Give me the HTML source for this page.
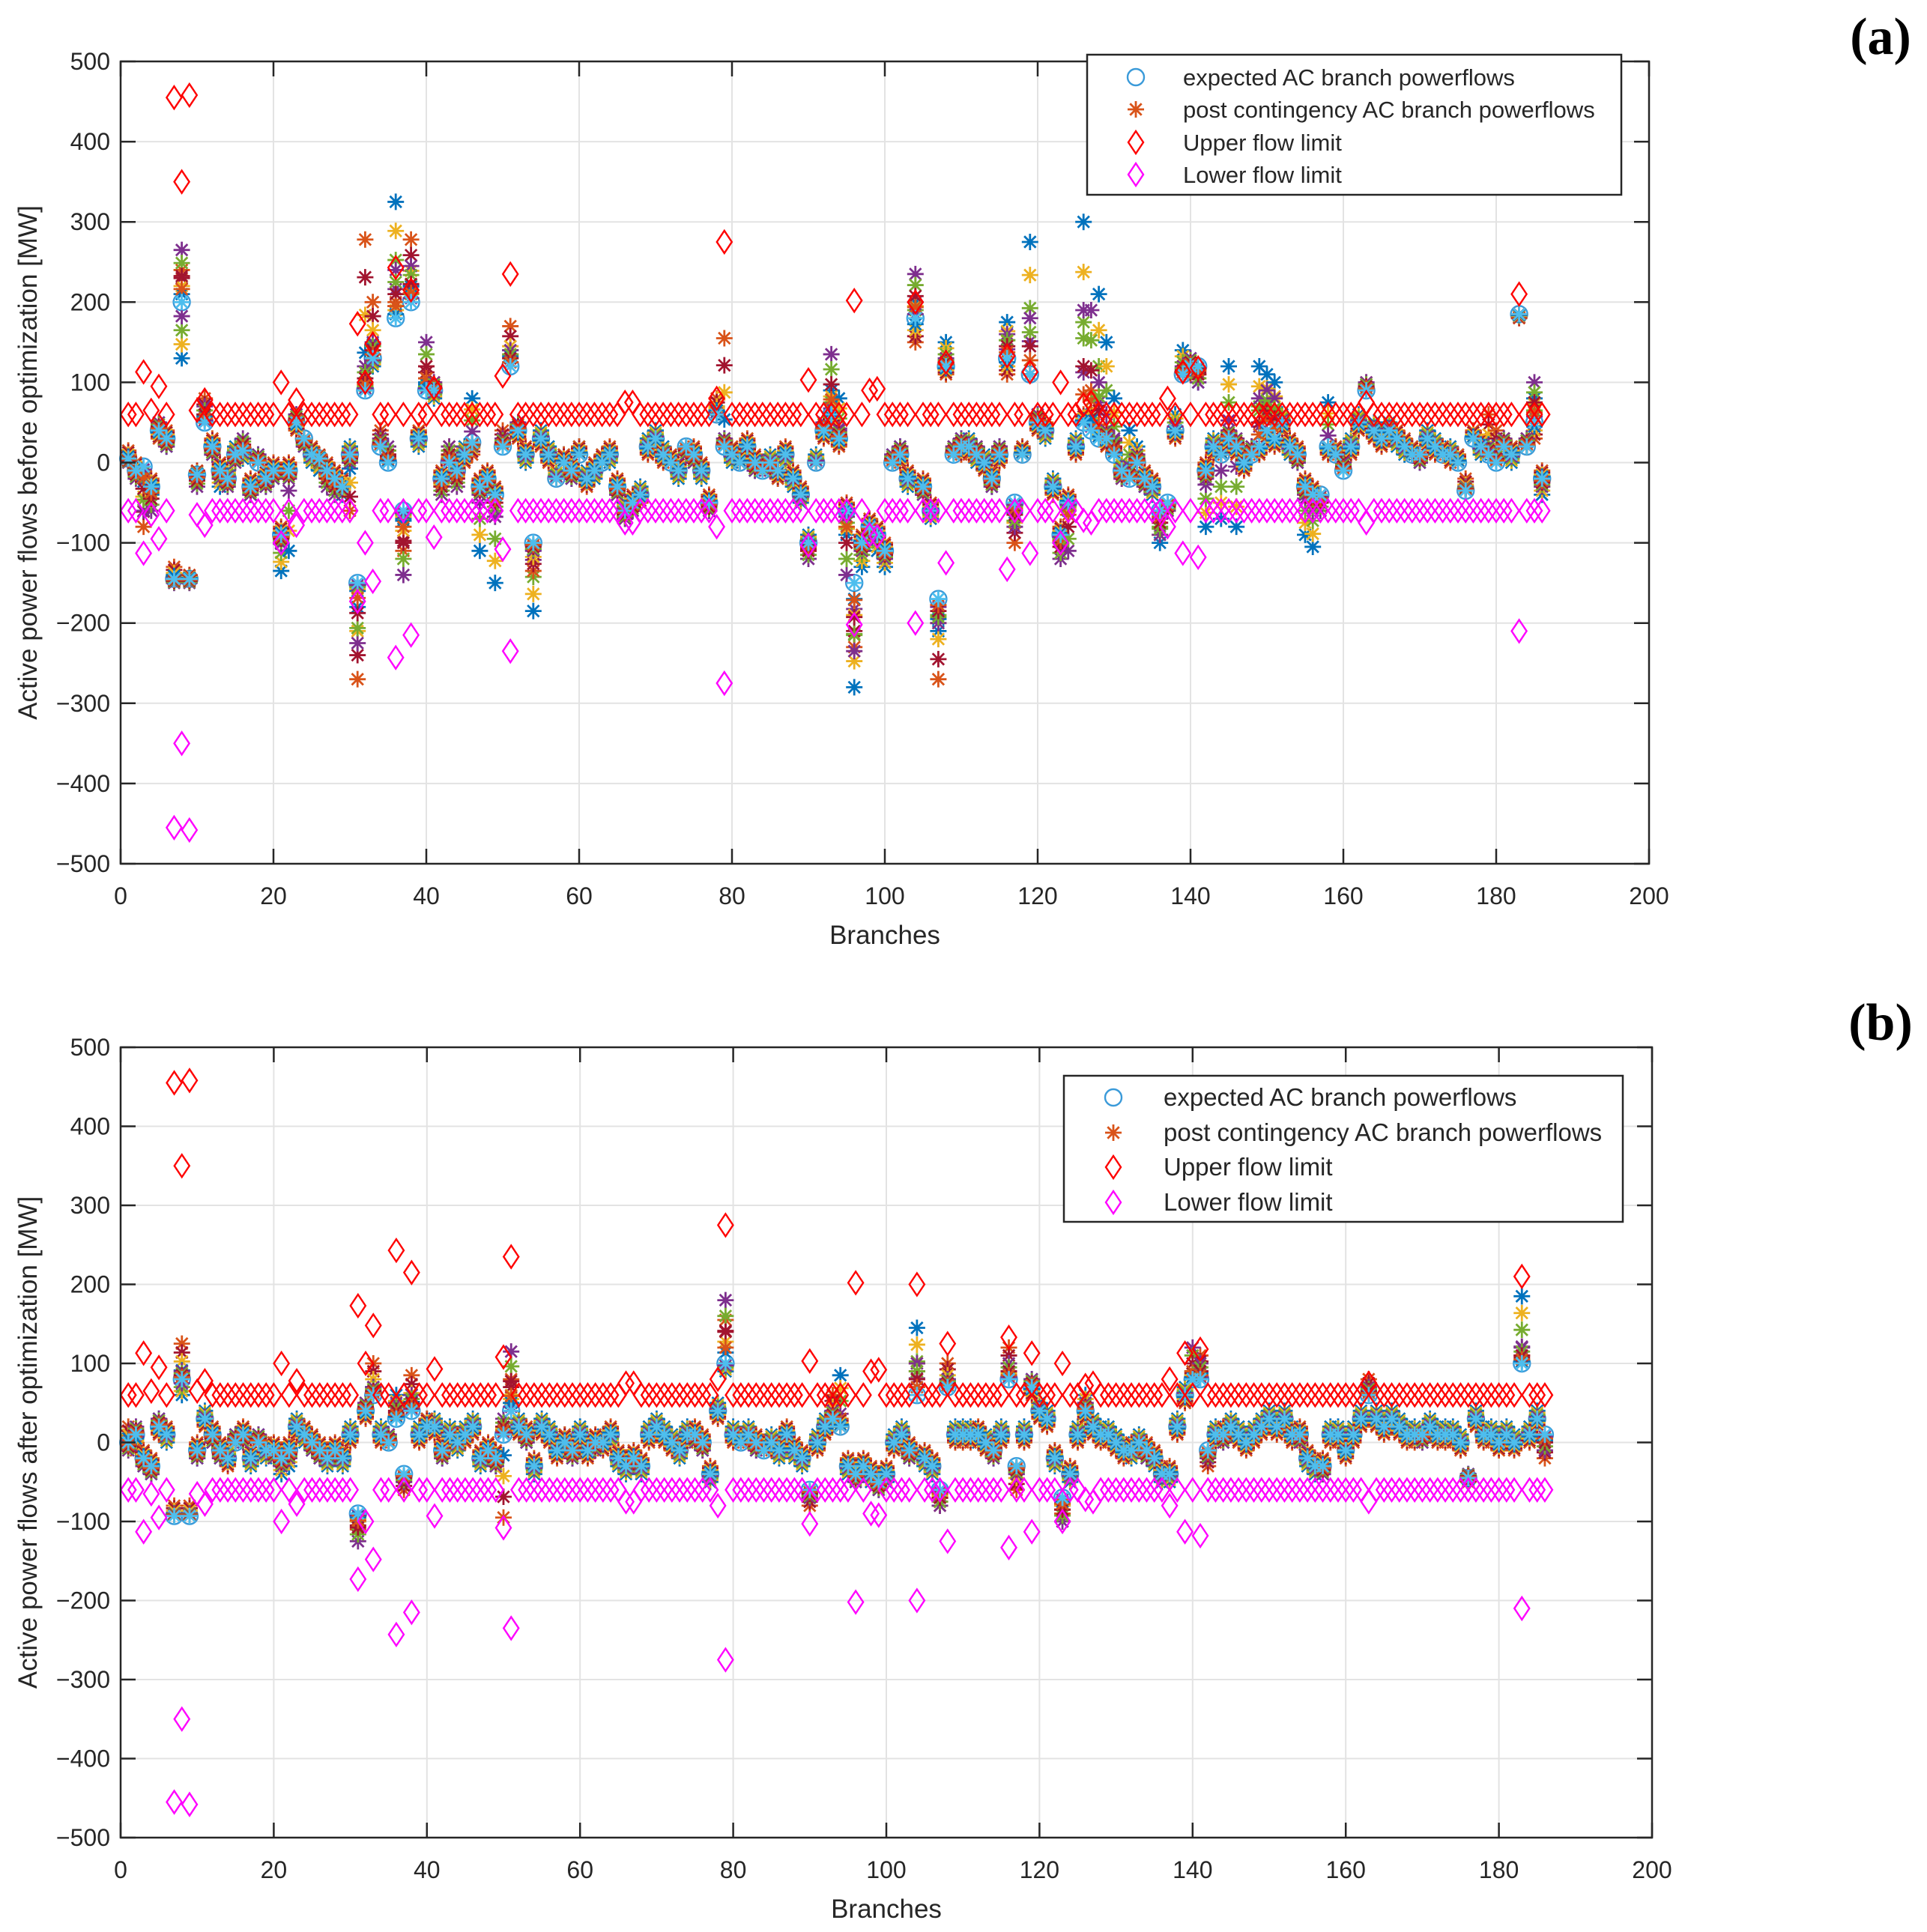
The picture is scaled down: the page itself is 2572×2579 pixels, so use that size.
<!DOCTYPE html>
<html><head><meta charset="utf-8"><style>
html,body{margin:0;padding:0;background:#fff}
svg{display:block}
text{font-family:"Liberation Sans",sans-serif;fill:#262626}
</style></head><body>
<svg id="fig" width="2572" height="2579" viewBox="0 0 2572 2579" xmlns="http://www.w3.org/2000/svg">
<text x="2510" y="72" font-size="70" font-weight="bold" style="font-family:'Liberation Serif',serif;fill:#000" text-anchor="middle">(a)</text>
<text x="2510" y="1388" font-size="70" font-weight="bold" style="font-family:'Liberation Serif',serif;fill:#000" text-anchor="middle">(b)</text>
</svg>
<script>
const xTicks=[0,20,40,60,80,100,120,140,160,180,200];
const yTicks=[500,400,300,200,100,0,-100,-200,-300,-400,-500];
const upperLimit=[60,60,113,65,95,60,455,350,458,65,
78,60,60,60,60,60,60,60,60,60,
100,60,78,60,60,60,60,60,60,60,
173,100,148,60,60,243,60,215,60,60,
93,60,60,60,60,60,60,60,60,108,
235,60,60,60,60,60,60,60,60,60,
60,60,60,60,60,75,75,60,60,60,
60,60,60,60,60,60,60,80,275,60,
60,60,60,60,60,60,60,60,60,103,
60,60,60,60,60,202,60,90,92,60,
60,60,60,200,60,60,60,125,60,60,
60,60,60,60,60,133,60,60,113,60,
60,60,100,60,60,72,75,60,60,60,
60,60,60,60,60,60,80,60,113,60,
118,60,60,60,60,60,60,60,60,60,
60,60,60,60,60,60,60,60,60,60,
60,60,75,60,60,60,60,60,60,60,
60,60,60,60,60,60,60,60,60,60,
60,60,210,60,60,60];
const expectedA=[5,-10,-5,-30,40,30,-145,200,-145,-15,
50,20,-10,-20,10,15,-30,0,-20,-10,
-90,-10,50,30,10,5,-10,-20,-30,10,
-150,90,130,20,0,180,-60,200,30,90,
90,-20,0,-10,10,25,-30,-20,-40,20,
120,40,10,-100,30,10,-20,0,-10,10,
-20,-10,0,10,-30,-60,-50,-40,20,30,
10,0,-10,20,10,-10,-50,60,20,10,
0,20,0,-10,0,-10,10,-20,-40,-100,
0,40,60,30,-60,-150,-100,-80,-90,-110,
0,10,-20,180,-30,-60,-170,120,10,20,
20,10,0,-20,10,130,-50,10,110,50,
40,-30,-90,-50,20,50,40,30,30,10,
-10,-20,0,-20,-30,-60,-50,40,110,120,
120,-10,20,10,30,20,0,10,20,40,
30,50,20,10,-30,-40,-40,20,10,-10,
20,50,90,40,30,40,30,20,10,10,
30,20,10,10,0,-35,30,20,10,0,
20,10,185,20,50,-20];
const contA1=[10,-5,-20,-40,50,20,-140,130,-145,-20,
60,10,-30,-10,20,5,-40,10,-30,-20,
-135,-110,60,20,0,-10,-20,-30,-40,20,
-160,100,120,30,10,325,-70,220,20,100,
80,-30,10,-20,20,80,-110,-30,-150,30,
140,50,0,-185,40,20,-10,10,-20,20,
-10,-20,10,0,-40,-50,-60,-30,30,40,
20,10,-20,10,0,-20,-60,70,30,0,
10,10,-10,0,10,-20,0,-30,-50,-90,
10,50,90,80,-90,-280,-130,-100,-110,-130,
10,20,-30,200,-40,-70,-210,150,20,30,
30,0,10,-30,20,175,-60,20,275,60,
30,-20,-100,-60,30,300,60,210,150,80,
0,40,20,-30,-40,-100,-60,60,140,130,
100,-80,30,-70,120,-80,10,20,120,110,
100,60,10,0,-90,-105,-50,75,20,0,
30,60,90,50,40,50,20,10,20,0,
40,30,20,20,10,-30,30,10,20,10,
30,0,185,20,80,-40];
const contA2=[15,0,-80,-20,30,40,-130,240,-140,-10,
80,30,0,-20,10,20,-20,0,-10,0,
-80,0,40,30,20,10,0,-10,-20,-60,
-270,278,200,40,10,200,-110,278,40,120,
100,-10,20,0,0,10,-20,-10,-30,40,
170,30,20,-135,20,0,-20,10,0,20,
-30,0,10,20,-20,-70,-40,-50,10,20,
0,10,0,20,20,0,-40,80,155,20,
10,30,10,0,-10,-20,20,-10,-30,-110,
0,30,50,20,-50,-230,-90,-70,-80,-100,
0,0,-10,150,-20,-50,-270,110,20,10,
10,20,-10,-10,0,110,-100,20,110,40,
50,-40,-80,-40,10,60,90,40,20,20,
-20,-10,0,-10,-20,-60,-60,30,110,110,
110,0,10,20,20,10,-10,20,10,30,
20,40,30,20,-20,-30,-40,10,20,10,
10,40,100,30,20,30,40,30,20,10,
20,10,20,0,10,-20,40,30,60,40,
30,20,180,30,30,-10];
const contA3=[0,-20,-60,-60,50,20,-150,265,-150,-30,
70,10,-20,-30,0,30,-40,10,-30,-20,
-100,-20,60,20,10,0,-30,-40,-30,0,
-225,120,150,30,20,240,-140,245,30,150,
100,-40,20,-30,10,20,-40,-30,-60,30,
140,50,10,-110,30,10,-20,0,-20,10,
-20,-10,0,10,-40,-70,-60,-40,20,30,
10,0,-10,10,0,-10,-60,60,30,10,
0,20,-10,0,-10,-10,10,-20,-40,-120,
0,50,135,40,-140,-235,-110,-90,-90,-120,
10,20,-20,235,-40,-60,-200,130,20,30,
20,20,0,-30,20,160,-80,10,180,60,
40,-30,-120,-110,20,190,190,100,40,30,
-20,-10,10,-30,-30,-90,-60,40,120,130,
100,-20,20,10,40,30,0,20,80,90,
80,50,20,0,-40,-60,-60,20,10,0,
20,50,100,40,30,40,30,20,10,0,
30,20,10,10,0,-30,30,20,20,10,
30,10,185,30,100,-30];
const expectedB=[0,10,-20,-30,20,10,-93,80,-93,-10,
30,10,-10,-20,0,10,-20,0,-10,-10,
-20,-10,20,10,0,-10,-20,-10,-20,10,
-90,40,60,10,0,30,-40,40,10,20,
20,-10,10,0,10,20,-20,-10,-20,10,
40,20,10,-30,20,10,-10,0,-10,10,
-10,0,0,10,-20,-30,-20,-30,10,20,
10,0,-10,10,10,0,-40,40,100,10,
0,10,0,-10,0,-10,10,-10,-20,-60,
0,20,30,20,-30,-40,-30,-40,-50,-40,
0,10,-10,60,-20,-30,-60,70,10,10,
10,10,0,-10,10,80,-30,10,70,40,
30,-20,-70,-40,10,40,20,10,10,0,
-10,-10,0,-10,-20,-40,-40,20,60,80,
80,-10,10,10,20,10,0,10,20,30,
20,30,10,10,-20,-30,-30,10,10,-10,
10,30,60,30,20,30,20,10,10,10,
20,10,10,10,0,-45,30,10,10,0,
10,0,100,10,30,10];
const contB1=[10,0,-30,-40,30,0,-90,60,-90,-20,
40,0,-20,-10,10,0,-30,10,-20,-20,
-40,-30,30,0,-10,-20,-30,-20,-30,20,
-100,50,70,20,10,60,-50,50,20,30,
30,-20,20,-10,20,30,-30,-20,-30,20,
60,30,0,-40,30,20,0,10,-20,20,
0,-10,10,0,-30,-40,-30,-40,20,30,
20,10,-20,20,0,-10,-50,50,90,20,
10,20,-10,0,10,-20,0,-20,-30,-70,
10,30,40,85,-40,-50,-40,-50,-60,-50,
10,20,-20,145,-30,-40,-70,80,20,20,
20,0,10,-20,20,90,-40,20,80,50,
40,-30,-80,-50,20,60,30,20,20,10,
0,-20,10,-20,-30,-50,-50,30,70,90,
90,-20,20,0,30,20,10,20,30,40,
30,40,20,0,-30,-40,-40,20,20,0,
20,40,70,40,30,40,30,20,20,0,
30,20,20,20,10,-40,40,20,20,10,
20,10,185,20,40,0];
const contB2=[20,-10,-10,-20,10,20,-80,125,-80,0,
20,20,0,-30,0,20,-10,0,0,0,
-10,0,10,20,10,0,-10,0,-10,0,
-110,30,100,0,0,40,-60,85,0,30,
10,0,0,10,0,10,-10,0,-10,-95,
80,10,20,-20,10,0,-20,10,0,0,
-20,10,-10,20,-10,-20,-10,-20,0,10,
0,-10,0,0,20,10,-30,30,155,0,
10,0,10,0,-10,0,20,0,-10,-80,
-10,10,60,30,-20,-30,-20,-30,-40,-30,
-10,0,0,100,-10,-20,-80,100,0,0,
0,20,-10,0,0,120,-60,0,60,30,
20,-10,-90,-30,0,30,10,0,0,-10,
-20,0,-10,0,-10,-30,-30,10,50,90,
110,-30,0,20,10,0,-10,0,10,20,
10,20,0,20,-10,-20,-20,0,0,-20,
0,20,80,20,10,20,10,0,0,10,
10,0,0,0,-10,-50,20,0,0,-10,
0,-10,110,0,20,-20];
const contB3=[-10,20,-30,-40,30,10,-90,90,-90,-20,
30,0,-20,-20,10,0,-20,10,-10,-20,
-30,-20,20,10,-10,-20,-20,-20,-20,10,
-125,50,70,10,10,50,-50,60,10,20,
20,-20,10,0,10,20,-20,-20,-30,30,
115,20,0,-30,20,10,-10,0,-20,10,
-10,-10,0,10,-20,-30,-30,-30,10,20,
10,0,-10,10,0,-10,-40,40,180,10,
0,10,-10,-10,0,-10,10,-10,-20,-70,
0,20,40,20,-30,-50,-30,-40,-60,-40,
0,10,-20,100,-20,-30,-80,80,10,10,
10,10,0,-20,10,100,-40,10,80,40,
30,-20,-100,-40,10,50,20,10,10,0,
-10,-10,0,-20,-20,-40,-40,20,60,120,
100,-20,10,0,20,10,0,10,20,30,
20,30,10,0,-20,-30,-40,10,10,-10,
10,30,70,30,20,30,20,10,10,0,
20,10,10,10,0,-40,30,10,10,0,
10,0,120,10,30,-10];

const NS='http://www.w3.org/2000/svg';
const svg=document.getElementById('fig');
function mk(tag,attrs,parent){const e=document.createElementNS(NS,tag);for(const k in attrs)e.setAttribute(k,attrs[k]);(parent||svg).appendChild(e);return e;}

function asterisk(g,cx,cy,col,s){
  const p=mk('path',{d:`M${cx-s},${cy}H${cx+s}M${cx},${cy-s}V${cy+s}M${cx-s*0.7},${cy-s*0.7}L${cx+s*0.7},${cy+s*0.7}M${cx-s*0.7},${cy+s*0.7}L${cx+s*0.7},${cy-s*0.7}`,stroke:col,'stroke-width':2.8,fill:'none'},g);
  
  
}
function diamond(g,cx,cy,col){
  const p=mk('path',{d:`M${cx},${cy-15}L${cx+10},${cy}L${cx},${cy+15}L${cx-10},${cy}Z`,stroke:col,'stroke-width':2.4,fill:'none'},g);
  
  
}
function circ(g,cx,cy){
  const c=mk('circle',{cx:cx,cy:cy,r:11,stroke:'#3A9AD9','stroke-width':2.4,fill:'none'},g);
  
  
}

function panel(id,L,R,T,B,ylabel,exp,c1,c2,c3,leg){
  const g=mk('g',{});
  
  
  const xs=v=>L+(v-0)/200*(R-L);
  const ys=v=>T+(500-v)/1000*(B-T);
  xTicks.forEach(t=>{ if(t>0&&t<200){const l=mk('line',{x1:xs(t),x2:xs(t),y1:T,y2:B,stroke:'#e3e3e3','stroke-width':2},g);}});
  yTicks.forEach(t=>{ if(t>-500&&t<500){const l=mk('line',{x1:L,x2:R,y1:ys(t),y2:ys(t),stroke:'#e3e3e3','stroke-width':2},g);}});
  const n=exp.length;
  const sg=mk('g',{},g);
  
  
  for(let i=0;i<n;i++){circ(sg,xs(i+1),ys(exp[i]));}
  const cols=['#0072BD','#D95319','#7E2F8E'];
  const mids=['#77AC30','#EDB120','#A2142F'];
  [c1,c2,c3].forEach((arr,k)=>{for(let i=0;i<n;i++){
    asterisk(sg,xs(i+1),ys(arr[i]),cols[k],11);
    asterisk(sg,xs(i+1),ys(exp[i]+(arr[i]-exp[i])*0.75),mids[(k+1)%3],11);
    asterisk(sg,xs(i+1),ys(exp[i]+(arr[i]-exp[i])*0.5),mids[k],11);
    asterisk(sg,xs(i+1),ys(exp[i]+(arr[i]-exp[i])*0.25),cols[(k+2)%3],11);
  }});
  for(let i=0;i<n;i++){asterisk(sg,xs(i+1),ys(exp[i]),'#4DBEEE',11);}
  for(let i=0;i<upperLimit.length;i++){diamond(sg,xs(i+1),ys(upperLimit[i]),'#FF0000');}
  for(let i=0;i<upperLimit.length;i++){diamond(sg,xs(i+1),ys(-upperLimit[i]),'#FF00FF');}
  const box=mk('rect',{x:L,y:T,width:R-L,height:B-T,fill:'none',stroke:'#262626','stroke-width':2.5},g);
  
  
  xTicks.forEach(t=>{
    mk('line',{x1:xs(t),x2:xs(t),y1:B,y2:B-20,stroke:'#262626','stroke-width':2.5},g);
    mk('line',{x1:xs(t),x2:xs(t),y1:T,y2:T+20,stroke:'#262626','stroke-width':2.5},g);
    const tx=mk('text',{x:xs(t),y:B+54,'font-size':32,'text-anchor':'middle'},g);
    tx.textContent=t;
    
    
  });
  yTicks.forEach(t=>{
    mk('line',{x1:L,x2:L+20,y1:ys(t),y2:ys(t),stroke:'#262626','stroke-width':2.5},g);
    mk('line',{x1:R,x2:R-20,y1:ys(t),y2:ys(t),stroke:'#262626','stroke-width':2.5},g);
    const tx=mk('text',{x:L-14,y:ys(t)+11,'font-size':32,'text-anchor':'end'},g);
    tx.textContent=t<0?'\u2212'+(-t):t;
    
    
  });
  const xl=mk('text',{x:(L+R)/2,y:B+107,'font-size':35,'text-anchor':'middle'},g);
  xl.textContent='Branches';
  
  
  const yl=mk('text',{x:0,y:0,'font-size':35,'text-anchor':'middle',transform:`translate(${L-112},${(T+B)/2}) rotate(-90)`},g);
  yl.textContent=ylabel;
  
  
  const lg=mk('g',{},g);
  
  
  mk('rect',{x:leg.x,y:leg.y,width:leg.w,height:leg.h,fill:'#fff',stroke:'#262626','stroke-width':2.5},lg);
  const labels=['expected AC branch powerflows','post contingency AC branch powerflows','Upper flow limit','Lower flow limit'];
  labels.forEach((lab,k)=>{
    const yy=leg.rows[k];
    if(k===0) circ(lg,leg.mx,yy);
    if(k===1) asterisk(lg,leg.mx,yy,'#D95319',11);
    if(k===2) diamond(lg,leg.mx,yy,'#FF0000');
    if(k===3) diamond(lg,leg.mx,yy,'#FF00FF');
    const tx=mk('text',{x:leg.tx,y:yy+11,'font-size':leg.fs},lg);
    tx.textContent=lab;
    
    
  });
}
panel('a',161,2201,82,1153,'Active power flows before optimization [MW]',expectedA,contA1,contA2,contA3,
  {x:1451,y:73,w:713,h:187,rows:[103,146,190,233],mx:1516,tx:1579,fs:31});
panel('b',161,2205,1398,2453,'Active power flows after optimization [MW]',expectedB,contB1,contB2,contB3,
  {x:1420,y:1436,w:746,h:195,rows:[1465,1512,1558,1605],mx:1486,tx:1553,fs:33});
</script>
</body></html>
